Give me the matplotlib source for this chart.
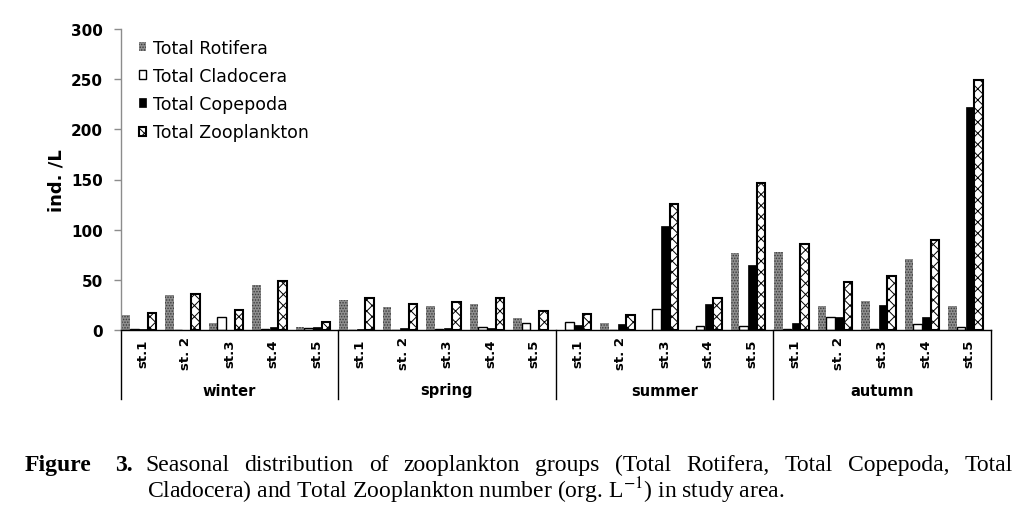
import matplotlib
matplotlib.use("Agg")
import matplotlib.pyplot as plt
import numpy as np

# ---------------- data ----------------
seasons = ["winter", "spring", "summer", "autumn"]
stations = ["st.1", "st. 2", "st.3", "st.4", "st.5"]
series_names = ["Total Rotifera", "Total Cladocera", "Total Copepoda", "Total Zooplankton"]

rotifera = [15, 35, 7, 45, 3,
            30, 23, 24, 26, 12,
            0, 7, 0, 0, 77,
            78, 23.5, 28.5, 71, 23.5]
cladocera = [0.5, 0, 13, 0.5, 1.5,
             0, 0, 0.5, 3.3, 7,
             8, 0, 20.5, 3.6, 3.6,
             1.3, 12.6, 0.7, 6.3, 2.6]
copepoda = [0.8, 0, 0, 2.7, 3,
            0.7, 1.7, 2.3, 1.7, 0,
            4.6, 6, 104, 25.5, 65,
            6.6, 12.6, 24.5, 12.6, 222]
zooplankton = [17, 36, 20, 49, 8,
               32, 26, 28, 32, 19,
               16, 15, 126, 31.5, 147,
               86, 48, 54, 89.5, 249]

yticks = [0, 50, 100, 150, 200, 250, 300]
ylabel = "ind. /L"

caption_bold = ["Figure", "3."]
caption_line1 = "Seasonal distribution of zooplankton groups (Total Rotifera, Total Copepoda, Total"
caption_line2 = r"Cladocera) and Total Zooplankton number (org. L$^{-1}$) in study area."

# ---------------- style ----------------
plt.rcParams["font.family"] = ["DejaVu Sans"]
plt.rcParams["hatch.linewidth"] = 0.7
plt.rcParams["mathtext.fontset"] = "stix"

W, H = 1023, 510
fig = plt.figure(figsize=(W / 100, H / 100), dpi=100)
ax_l, ax_r, ax_t, ax_b = 120.7, 990.7, 30, 331
ax = fig.add_axes([ax_l / W, 1 - ax_b / H, (ax_r - ax_l) / W, (ax_b - ax_t) / H])

n = len(seasons) * len(stations)
x = np.arange(n)
bw = 0.195
shift = -0.08
styles = [
    dict(facecolor="#8e8e8e", edgecolor="#3a3a3a", linewidth=0, hatch="......"),
    dict(facecolor="white", edgecolor="black", linewidth=1.0),
    dict(facecolor="black", edgecolor="black", linewidth=0.5),
    dict(facecolor="white", edgecolor="black", linewidth=1.5, hatch="xxx"),
]
handles = []
for j, vals in enumerate([rotifera, cladocera, copepoda, zooplankton]):
    b = ax.bar(x + (j - 1.5) * 0.2 + shift, vals, width=bw, label=series_names[j],
               zorder=2, **styles[j])
    handles.append(b)

ax.set_xlim(-0.5, n - 0.5)
ax.set_ylim(0, 300)
ax.set_yticks(yticks)
ax.set_yticklabels([str(t) for t in yticks], fontweight="bold", fontsize=11)
ax.tick_params(axis="y", direction="out", length=5, width=1, color="#8c8c8c", pad=8)
ax.tick_params(axis="x", length=0, labelbottom=False)
for s in ["top", "right"]:
    ax.spines[s].set_visible(False)
ax.spines["left"].set_color("#8c8c8c")
ax.spines["left"].set_linewidth(1)
ax.spines["bottom"].set_color("black")
ax.spines["bottom"].set_linewidth(1)
ax.spines["bottom"].set_zorder(3)

ax.set_ylabel(ylabel, fontweight="bold", fontsize=13, labelpad=4)

# multi-level category axis
trans = ax.get_xaxis_transform()
y_px = lambda py: (ax_b - py) / (ax_b - ax_t)
for k in range(len(seasons) + 1):
    xb = k * len(stations) - 0.5
    ax.plot([xb, xb], [0, y_px(400)], color="black", lw=1, transform=trans, clip_on=False)
for i in range(n):
    ax.text(x[i], y_px(354), stations[i % len(stations)], rotation=90, ha="center",
            va="center", fontweight="bold", fontsize=9.5, transform=trans)
for k, s in enumerate(seasons):
    ax.text(k * len(stations) + 2, y_px(391), s, ha="center", va="center",
            fontweight="bold", fontsize=10.5, transform=trans)

leg = ax.legend(handles=handles, loc="upper left",
                bbox_to_anchor=((139 - ax_l) / (ax_r - ax_l), y_px(40)),
                frameon=False, fontsize=12.5, handlelength=0.42, handleheight=0.42,
                handletextpad=0.4, labelspacing=0.58, borderpad=0, borderaxespad=0)

# ---------------- caption ----------------
renderer = fig.canvas.get_renderer()
cap_font = dict(family=["Liberation Serif", "DejaVu Serif"], fontsize=17)
base1 = 1 - 471 / H
base2 = 1 - 498 / H
fig.text(25 / W, base1, caption_bold[0], fontweight="bold", va="baseline", ha="left", **cap_font)
fig.text(133 / W, base1, caption_bold[1], fontweight="bold", va="baseline", ha="right", **cap_font)

words = caption_line1.split(" ")
x0, x1 = 145, 1013
txts = []
widths = []
for w_ in words:
    t = fig.text(0, base1, w_, va="baseline", ha="left", **cap_font)
    widths.append(t.get_window_extent(renderer).width)
    txts.append(t)
gap = (x1 - x0 - sum(widths)) / (len(words) - 1)
cx = x0
for t, wd in zip(txts, widths):
    t.set_x(cx / W)
    cx += wd + gap

fig.text(147 / W, base2, caption_line2, va="baseline", ha="left", **cap_font)

fig.savefig("out.png", dpi=100)
